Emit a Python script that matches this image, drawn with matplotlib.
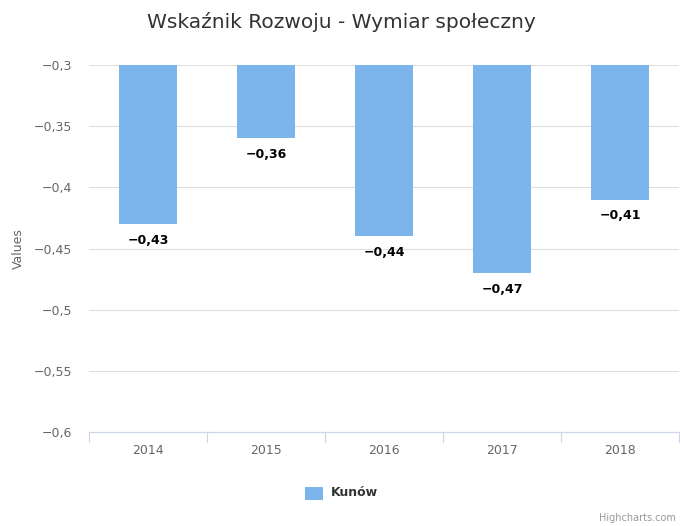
import matplotlib

matplotlib.use("Agg")
import matplotlib.pyplot as plt
from matplotlib.patches import Rectangle

years = ["2014", "2015", "2016", "2017", "2018"]
values = [-0.43, -0.36, -0.44, -0.47, -0.41]
y_ticks = [-0.6, -0.55, -0.5, -0.45, -0.4, -0.35, -0.3]
series_name = "Kunów"

BAR = "#7cb5ec"
W, H = 680, 526


def fmt(v: float) -> str:
    s = f"{v:g}".replace(".", ",")
    return s.replace("-", "\u2212")


fig = plt.figure(figsize=(W / 100, H / 100), dpi=100)
fig.patch.set_facecolor("white")
ax = fig.add_axes([89 / W, (H - 432) / H, 590 / W, 367 / H])

x = list(range(len(years)))
ax.bar(x, values, width=0.49, color=BAR, zorder=3)
ax.set_ylim(-0.6, -0.3)
ax.set_xlim(-0.5, len(years) - 0.5)

for xi, v in zip(x, values):
    ax.annotate(fmt(v), (xi, v), xytext=(0, -7), textcoords="offset points",
                ha="center", va="top", fontsize=9, fontweight="bold",
                color="#000000", zorder=5)

ax.set_yticks(y_ticks)
ax.set_yticklabels([fmt(t) for t in y_ticks], fontsize=9, color="#666666")
ax.set_xticks(x)
ax.set_xticklabels(years, fontsize=9, color="#666666")
ax.tick_params(axis="y", length=0, pad=12)
ax.tick_params(axis="x", length=0, pad=9)
for b in range(len(years) + 1):
    ax.plot([b - 0.5, b - 0.5], [0, -10 / 367], transform=ax.get_xaxis_transform(),
            color="#ccd6eb", linewidth=0.8, clip_on=False)

ax.grid(axis="y", color="#e0e0e0", linewidth=0.8, zorder=0)
for side in ("top", "right", "left"):
    ax.spines[side].set_visible(False)
ax.spines["bottom"].set_color("#ccd6eb")
ax.spines["bottom"].set_linewidth(0.8)

ax.set_ylabel("Values", fontsize=9, color="#666666", va="center")
ax.yaxis.set_label_coords(-(89 - 18) / 590, 0.5)

fig.text(341 / W, 1 - 22 / H, "Wskaźnik Rozwoju - Wymiar społeczny",
         ha="center", va="center", fontsize=14.5, color="#333333")

fig.patches.append(Rectangle((305 / W, 1 - 500 / H), 18 / W, 13 / H,
                             transform=fig.transFigure, facecolor=BAR,
                             edgecolor="none"))
fig.text(331 / W, 1 - 493 / H, series_name, ha="left", va="center",
         fontsize=9, fontweight="bold", color="#333333")
fig.text(676 / W, 1 - 518 / H, "Highcharts.com", ha="right", va="center",
         fontsize=7, color="#999999")

fig.savefig("out.png", dpi=100, facecolor="white")
